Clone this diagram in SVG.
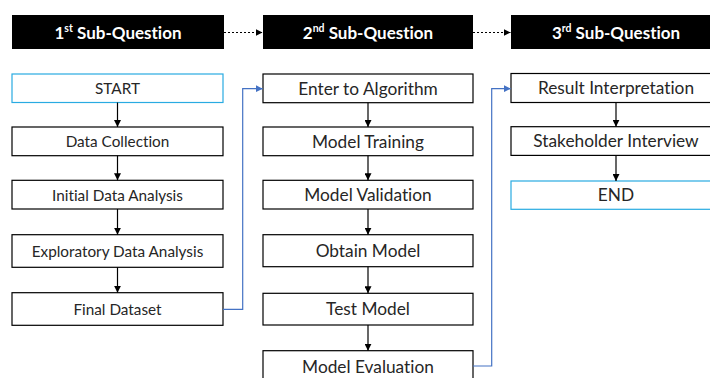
<svg xmlns="http://www.w3.org/2000/svg" width="710" height="378" viewBox="0 0 710 378">
<defs>
<marker id="ah" viewBox="0 0 10 10" refX="10" refY="5" markerWidth="7" markerHeight="7" markerUnits="userSpaceOnUse" orient="auto">
<path d="M0,0 L10,5 L0,10 Z" fill="#000"/>
</marker>
<marker id="ahb" viewBox="0 0 10 10" refX="10" refY="5" markerWidth="7" markerHeight="7" markerUnits="userSpaceOnUse" orient="auto">
<path d="M0,0 L10,5 L0,10 Z" fill="#4472C4"/>
</marker>
<style>
text{font-variant-ligatures:none;font-family:Lato,"Open Sans",sans-serif;text-anchor:middle;}
.hdr{fill:#000;}
.ht{fill:#fff;font-weight:bold;font-size:17px;}
.box{fill:#fff;stroke:#000;stroke-width:1.2;}
.cy{fill:#fff;stroke:#29ABE2;stroke-width:1.2;}
.t1{fill:#262626;font-size:15.3px;}
.t2{fill:#262626;font-size:17.3px;}
.c{stroke:#000;stroke-width:1.2;fill:none;marker-end:url(#ah);}
.d{stroke:#000;stroke-width:1.2;fill:none;stroke-dasharray:2 2;marker-end:url(#ah);}
.b{stroke:#4472C4;stroke-width:1.2;fill:none;marker-end:url(#ahb);}
</style>
</defs>
<rect width="710" height="378" fill="#fff"/>

<g id="h1"><rect class="hdr" x="12" y="15" width="212" height="34"/><text class="ht" x="118" y="38.5">1<tspan font-size="10.5" dy="-6.5">st</tspan><tspan dy="6.5"> Sub-Question</tspan></text></g>
<g id="h2"><rect class="hdr" x="263" y="15" width="210" height="34"/><text class="ht" x="368" y="38.5">2<tspan font-size="10.5" dy="-6.5">nd</tspan><tspan dy="6.5"> Sub-Question</tspan></text></g>
<g id="h3"><rect class="hdr" x="511" y="15" width="212" height="34"/><text class="ht" x="616" y="38.5">3<tspan font-size="10.5" dy="-6.5">rd</tspan><tspan dy="6.5"> Sub-Question</tspan></text></g>

<g id="start"><rect class="cy" x="12" y="74" width="211" height="28.5"/><text class="t1" x="117.5" y="94">START</text></g>
<g id="dc"><rect class="box" x="12" y="127" width="211" height="28.7"/><text class="t1" x="117.5" y="147.2">Data Collection</text></g>
<g id="ida"><rect class="box" x="12" y="180.3" width="211" height="28.7"/><text class="t1" x="117.5" y="200.5">Initial Data Analysis</text></g>
<g id="eda"><rect class="box" x="12" y="234.7" width="211" height="32.6"/><text class="t1" x="117.5" y="256.8">Exploratory Data Analysis</text></g>
<g id="fd"><rect class="box" x="12" y="292.7" width="211" height="32.6"/><text class="t1" x="117.5" y="314.8">Final Dataset</text></g>

<g id="eta"><rect class="box" x="263" y="74" width="210" height="28.7"/><text class="t2" x="368" y="94.5">Enter to Algorithm</text></g>
<g id="mt"><rect class="box" x="263" y="127" width="210" height="28.7"/><text class="t2" x="368" y="147.8">Model Training</text></g>
<g id="mv"><rect class="box" x="263" y="180.3" width="210" height="28.7"/><text class="t2" x="368" y="201">Model Validation</text></g>
<g id="om"><rect class="box" x="263" y="234.7" width="210" height="32"/><text class="t2" x="368" y="257">Obtain Model</text></g>
<g id="tm"><rect class="box" x="263" y="293.3" width="210" height="31.7"/><text class="t2" x="368" y="315.3">Test Model</text></g>
<g id="me"><rect class="box" x="263" y="350.7" width="210" height="32"/><text class="t2" x="368" y="372.5">Model Evaluation</text></g>

<g id="ri"><rect class="box" x="511" y="73.5" width="210" height="29"/><text class="t2" x="616" y="94.2">Result Interpretation</text></g>
<g id="si"><rect class="box" x="511" y="126.7" width="210" height="28.7"/><text class="t2" x="616" y="147.3">Stakeholder Interview</text></g>
<g id="end"><rect class="cy" x="511" y="181" width="210" height="28.3"/><text class="t2" x="616" y="201.3">END</text></g>

<g id="connectors">
<path class="d" d="M224,32.5 H262.5"/>
<path class="d" d="M473,32.5 H510.5"/>
<path class="c" d="M117.5,102.5 V127"/>
<path class="c" d="M117.5,155.7 V180.3"/>
<path class="c" d="M117.5,209 V234.7"/>
<path class="c" d="M117.5,267.3 V292.7"/>
<path class="c" d="M368,102.7 V127"/>
<path class="c" d="M368,155.7 V180.3"/>
<path class="c" d="M368,209 V234.7"/>
<path class="c" d="M368,266.7 V293.3"/>
<path class="c" d="M368,325 V350.7"/>
<path class="c" d="M616,102.5 V126.7"/>
<path class="c" d="M616,155.4 V181"/>
<path class="b" d="M223,309.3 H242.7 V88.7 H262.7"/>
<path class="b" d="M473,366 H491.7 V88.7 H510.7"/>
</g>
</svg>
